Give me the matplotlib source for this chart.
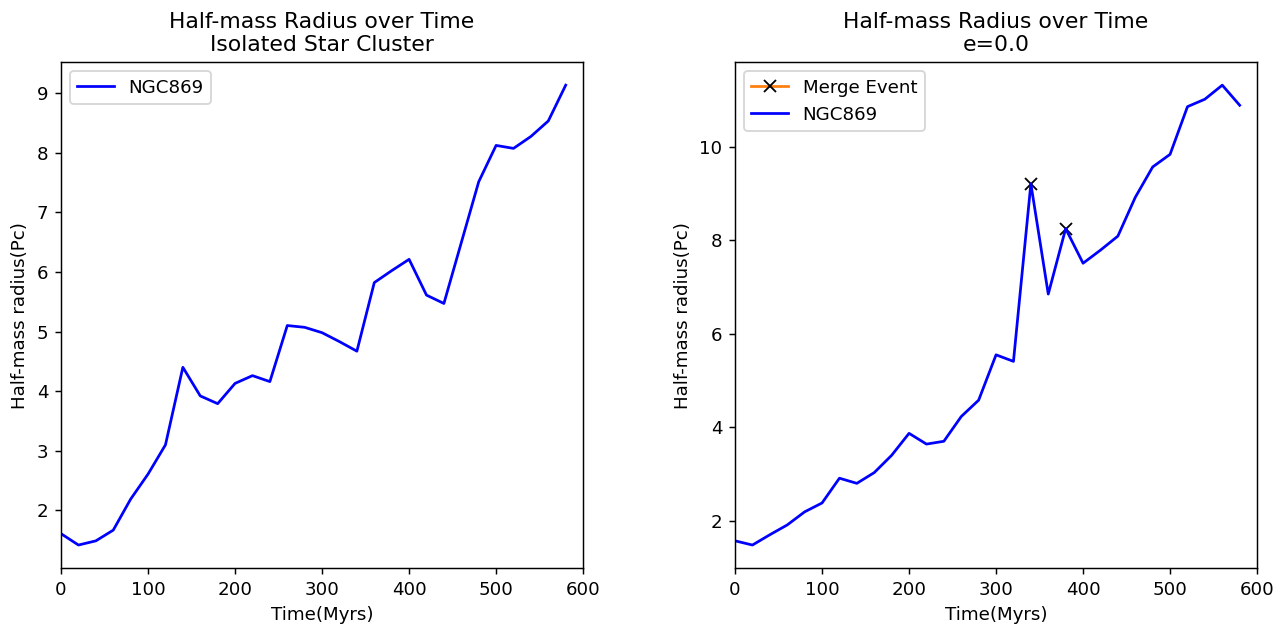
import matplotlib
matplotlib.use("Agg")
import matplotlib.pyplot as plt

# time steps (Myrs)
time = [0, 20, 40, 60, 80, 100, 120, 140, 160, 180, 200, 220, 240, 260, 280,
        300, 320, 340, 360, 380, 400, 420, 440, 460, 480, 500, 520, 540, 560, 580]

# half-mass radius, isolated cluster
r_isolated = [1.61, 1.42, 1.49, 1.67, 2.19, 2.61, 3.10, 4.40, 3.92, 3.79,
              4.13, 4.26, 4.16, 5.10, 5.07, 4.98, 4.83, 4.67, 5.82, 6.02,
              6.21, 5.61, 5.47, 6.49, 7.51, 8.12, 8.07, 8.27, 8.53, 9.13]

# half-mass radius, e=0.0 run
r_e00 = [1.57, 1.48, 1.70, 1.91, 2.19, 2.38, 2.91, 2.80, 3.03, 3.40,
         3.87, 3.64, 3.70, 4.23, 4.58, 5.55, 5.41, 9.21, 6.85, 8.25,
         7.51, 7.79, 8.09, 8.92, 9.57, 9.84, 10.86, 11.02, 11.32, 10.89]

merge_times = [340, 380]
merge_radii = [9.21, 8.25]

dpi = 131.5
fig, (ax1, ax2) = plt.subplots(1, 2, figsize=(1288 / dpi, 628 / dpi), dpi=dpi)
fig.subplots_adjust(left=0.0474, right=0.976, bottom=0.0955, top=0.901, wspace=0.291)

# left panel
ax1.plot(time, r_isolated, color='blue', label='NGC869')
ax1.set_xlim(0, 600)
ax1.set_title('Half-mass Radius over Time\nIsolated Star Cluster')
ax1.set_xlabel('Time(Myrs)')
ax1.set_ylabel('Half-mass radius(Pc)')
ax1.legend(loc='upper left')

# right panel
for i in range(len(merge_times)):
    ax2.plot([merge_times[i]], [merge_radii[i]], marker='x', color='C1',
             mec='black', markersize=7, label='Merge Event' if i == 0 else None)
ax2.plot(time, r_e00, color='blue', label='NGC869')
ax2.set_xlim(0, 600)
ax2.set_title('Half-mass Radius over Time\ne=0.0')
ax2.set_xlabel('Time(Myrs)')
ax2.set_ylabel('Half-mass radius(Pc)')
ax2.legend(loc='upper left')

fig.savefig('out.png', dpi=dpi)
